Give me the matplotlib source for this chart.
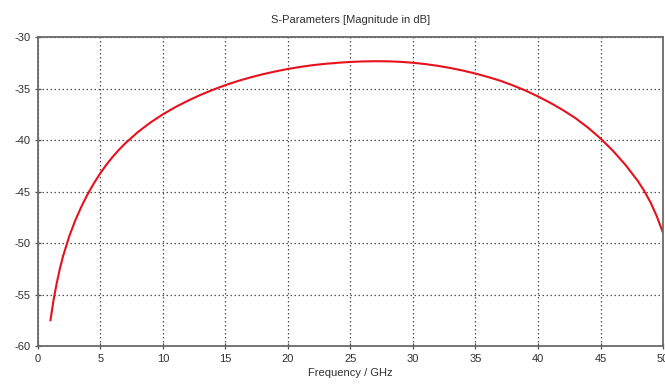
import matplotlib
matplotlib.use("Agg")
import matplotlib.pyplot as plt

# S-parameter magnitude (dB) versus frequency (GHz)
freq_ghz = [1.0, 1.25, 1.5, 1.75, 2.0, 2.5, 3.0, 3.5, 4.0, 4.5, 5.0, 5.5, 6.0,
            6.5, 7.0, 8.0, 9.0, 10.0, 11.0, 12.0, 13.0, 14.0, 15.0, 16.0,
            17.0, 18.0, 19.0, 20.0, 21.0, 22.0, 23.0, 24.0, 25.0, 26.0, 27.0,
            28.0, 29.0, 30.0, 31.0, 32.0, 33.0, 34.0, 35.0, 36.0, 37.0, 38.0,
            39.0, 40.0, 41.0, 42.0, 43.0, 44.0, 45.0, 46.0, 47.0, 48.0, 48.5,
            49.0, 49.5, 50.0]
mag_db = [-57.5, -55.5, -53.9, -52.5, -51.3, -49.35, -47.75, -46.4, -45.2,
          -44.15, -43.2, -42.35, -41.6, -40.92, -40.3, -39.22, -38.3, -37.5,
          -36.8, -36.18, -35.62, -35.12, -34.67, -34.27, -33.92, -33.61,
          -33.34, -33.1, -32.9, -32.73, -32.6, -32.5, -32.42, -32.37, -32.35,
          -32.36, -32.41, -32.5, -32.63, -32.8, -33.01, -33.26, -33.55,
          -33.88, -34.25, -34.7, -35.2, -35.77, -36.4, -37.1, -37.88, -38.8,
          -39.85, -41.05, -42.42, -44.0, -44.95, -46.05, -47.4, -49.0]

x_ticks = [0, 5, 10, 15, 20, 25, 30, 35, 40, 45, 50]
y_ticks = [-60, -55, -50, -45, -40, -35, -30]

plt.rcParams['font.family'] = ['Liberation Sans', 'DejaVu Sans']
plt.rcParams['axes.unicode_minus'] = False

fig = plt.figure(figsize=(6.65, 3.86), dpi=100)
ax = fig.add_axes([0.0571, 0.1036, 0.9399, 0.8005])

ax.plot(freq_ghz, mag_db, color='#e8101c', linewidth=1.5, clip_on=True,
        solid_joinstyle='round')

ax.set_xlim(0, 50)
ax.set_ylim(-60, -30)
ax.set_xticks(x_ticks)
ax.set_yticks(y_ticks)
ax.grid(True, linestyle=(0, (1.2, 2.0)), color='#505050', linewidth=0.9)

for s in ax.spines.values():
    s.set_color('#6a6a6a')
    s.set_linewidth(1.3)
ax.tick_params(direction='inout', length=5, width=0.9, color='#505050',
               labelsize=8, labelcolor='#303030', pad=3)

ax.set_title('S-Parameters [Magnitude in dB]', fontsize=8, color='#303030', pad=10)
ax.set_xlabel('Frequency / GHz', fontsize=8, color='#303030', labelpad=3)

fig.savefig('out.png', dpi=100)
